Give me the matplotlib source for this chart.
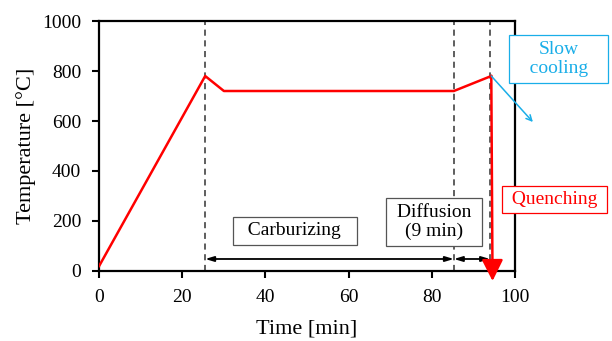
import matplotlib.pyplot as plt

plt.rcParams['font.family'] = ['Liberation Serif', 'DejaVu Serif']

# heat-treatment profile
time_min = [0, 25.5, 30, 85.3, 94.3]
temp_c = [20, 780, 720, 720, 780]
stage_marks = [25.5, 85.3, 94]
xticks = [0, 20, 40, 60, 80, 100]
yticks = [0, 200, 400, 600, 800, 1000]

red = '#ff0000'
blue = '#1aaee8'

fig = plt.figure(figsize=(6.12, 3.41), dpi=100)
ax = fig.add_axes([0.162, 0.2053, 0.6795, 0.7331])

ax.plot(time_min, temp_c, color=red, lw=1.8, zorder=3)

for x in stage_marks:
    ax.axvline(x, color='#333333', ls=(0, (4, 3)), lw=1.1, zorder=1)

# quenching arrow
ax.annotate('', xy=(94.6, -40), xytext=(time_min[-1], temp_c[-1]),
            arrowprops=dict(arrowstyle='-|>,head_width=0.65,head_length=1.3',
                            color=red, lw=1.8, shrinkA=0, shrinkB=0),
            annotation_clip=False, zorder=4)
# slow cooling arrow
ax.annotate('', xy=(104.3, 596), xytext=(time_min[-1], temp_c[-1]),
            arrowprops=dict(arrowstyle='->', color=blue, lw=1.1,
                            shrinkA=0, shrinkB=0),
            annotation_clip=False, zorder=4)

# duration arrows
arrow_y = 48
ax.annotate('', xy=(stage_marks[0], arrow_y), xytext=(stage_marks[1], arrow_y),
            arrowprops=dict(arrowstyle='<|-|>,head_width=0.15,head_length=0.5',
                            color='black', lw=1.3, shrinkA=0, shrinkB=0))
ax.annotate('', xy=(stage_marks[1], arrow_y), xytext=(stage_marks[2], arrow_y),
            arrowprops=dict(arrowstyle='<|-|>,head_width=0.15,head_length=0.5',
                            color='black', lw=1.3, shrinkA=0, shrinkB=0))

ax.text(47, 160, '  Carburizing  ', ha='center', va='center', fontsize=14,
        bbox=dict(boxstyle='square,pad=0.3', fc='white', ec='#555555', lw=0.9))
ax.text(80.6, 196, ' Diffusion \n(9 min)', ha='center', va='center', fontsize=14,
        linespacing=1.1,
        bbox=dict(boxstyle='square,pad=0.3', fc='white', ec='#555555', lw=0.9))
ax.text(110.5, 848, 'Slow\n   cooling   ', ha='center', va='center', fontsize=14,
        color=blue, linespacing=1.15, clip_on=False, multialignment='center',
        bbox=dict(boxstyle='square,pad=0.3', fc='white', ec=blue, lw=0.9))
ax.text(109.6, 287, ' Quenching ', ha='center', va='center', fontsize=14,
        color=red, clip_on=False,
        bbox=dict(boxstyle='square,pad=0.25', fc='white', ec=red, lw=0.9))

ax.set_xlim(0, 100)
ax.set_ylim(0, 1000)
ax.set_xticks(xticks)
ax.set_yticks(yticks)
ax.tick_params(labelsize=14, width=1.5, length=5, direction='out', pad=8)
for s in ax.spines.values():
    s.set_linewidth(1.6)
ax.set_xlabel('Time [min]', fontsize=16, labelpad=10)
ax.set_ylabel('Temperature [°C]', fontsize=16, labelpad=4)

fig.savefig('out.png', dpi=100)
